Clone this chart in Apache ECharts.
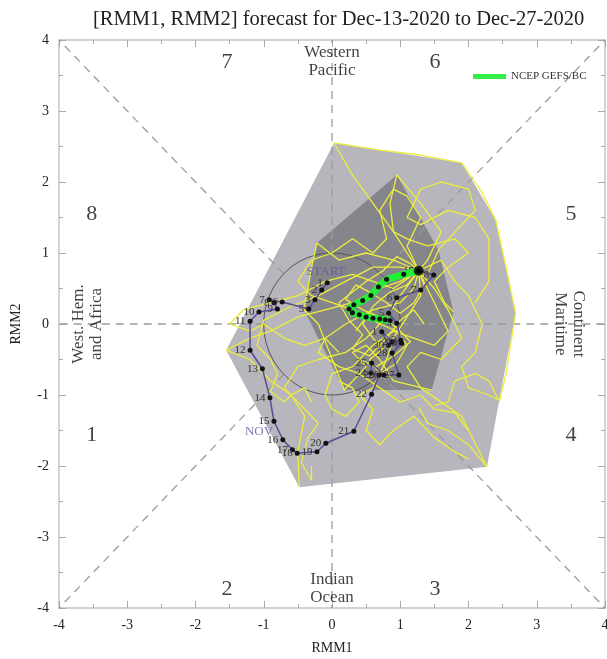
<!DOCTYPE html>
<html>
<head>
<meta charset="utf-8">
<script src="https://cdn.jsdelivr.net/npm/echarts@6/dist/echarts.min.js"></script>
<style>
  html, body { margin: 0; padding: 0; background: #fff; }
  #chart { width: 607px; height: 659px; }
</style>
</head>
<body>
<div id="chart"></div>
<script>
// observed RMM track (day labels, x, y)
const obsDays = ['1','2','3','5','6','7','8','9','10','11','12','13','14','15','16','17','18','19','20','21','22',
  '23','24','25','26','27','28','29','30','1','2','3','4','5','6','7','8','9','10'];
const obsX = [-0.07,-0.15,-0.25,-0.34,-0.73,-0.92,-0.85,-0.80,-1.07,-1.20,-1.20,-1.02,-0.91,-0.85,-0.72,-0.58,-0.51,-0.22,-0.09,0.32,0.58,
  0.69,0.57,0.58,0.76,0.98,0.88,1.02,0.83,0.73,0.88,1.01,0.95,0.83,0.95,1.30,1.49,1.27,1.27];
const obsY = [0.58,0.48,0.34,0.21,0.31,0.34,0.30,0.21,0.17,0.04,-0.37,-0.63,-1.04,-1.37,-1.63,-1.77,-1.82,-1.80,-1.68,-1.51,-0.99,
  -0.72,-0.69,-0.55,-0.72,-0.72,-0.41,-0.27,-0.30,-0.11,-0.25,-0.23,0.01,0.15,0.37,0.48,0.69,0.75,0.75];

// ensemble mean forecast (NCEP GEFS/BC)
const meanX = [1.27,1.05,0.80,0.68,0.57,0.45,0.32,0.25,0.30,0.40,0.50,0.60,0.70,0.78,0.85];
const meanY = [0.75,0.70,0.63,0.52,0.40,0.33,0.27,0.21,0.16,0.13,0.10,0.08,0.07,0.06,0.05];

// ensemble members
const members = [
  [[1.27,0.75],[1.1,1.0],[0.9,1.3],[0.6,1.7],[0.3,2.1],[0.03,2.55],[0.7,2.45],[1.3,2.38],[1.9,2.27],[2.2,1.85],[2.40,1.46],[2.55,0.8],[2.69,0.15],[2.55,-0.7],[2.45,-1.1]],
  [[1.27,0.75],[1.4,0.9],[1.6,1.3],[1.3,1.7],[0.95,2.10],[0.85,1.7],[0.9,1.3],[1.1,1.2],[1.4,1.1],[1.8,1.2],[2.0,1.0],[1.7,0.8],[1.5,0.6],[1.65,0.3],[1.78,0.17]],
  [[1.27,0.75],[1.0,0.6],[0.7,0.5],[0.3,0.3],[-0.1,0.2],[-0.5,0.1],[-0.9,-0.1],[-1.2,-0.2],[-1.55,-0.37],[-1.2,-0.5],[-0.9,-0.8],[-0.6,-1.0],[-0.4,-1.3],[-0.5,-1.8],[-0.48,-2.30]],
  [[1.27,0.75],[1.0,0.4],[0.8,0.1],[0.5,-0.2],[0.2,-0.4],[-0.2,-0.5],[-0.5,-0.6],[-0.7,-0.9],[-0.5,-1.1],[-0.3,-1.3],[-0.2,-1.4],[-0.35,-1.6],[-0.45,-1.95],[-0.3,-2.2],[-0.3,-2.0]],
  [[1.27,0.75],[1.5,0.5],[1.7,0.2],[1.9,-0.2],[1.6,-0.5],[1.3,-0.4],[1.1,-0.6],[1.3,-0.9],[1.6,-1.1],[1.9,-1.3],[2.27,-2.01],[2.0,-1.7],[1.7,-1.5],[1.4,-1.4],[1.27,-1.17]],
  [[1.27,0.75],[0.9,0.9],[0.5,1.0],[0.1,0.9],[-0.22,1.14],[-0.3,0.8],[-0.41,0.20],[-0.2,0.0],[0.18,-0.93],[0.5,-0.6],[0.3,-0.4],[0.5,-0.3],[0.7,-0.5],[0.9,-0.8],[1.46,-0.93]],
  [[1.27,0.75],[1.4,0.7],[1.56,1.04],[1.9,1.4],[2.1,1.6],[2.0,1.9],[1.6,2.0],[1.3,1.9],[1.1,1.5],[1.3,1.4],[1.7,1.6],[2.1,1.5],[2.3,1.2],[2.3,0.6],[2.1,0.3]],
  [[1.27,0.75],[1.2,0.5],[1.0,0.3],[0.6,0.2],[0.2,0.0],[-0.1,-0.2],[-0.2,-0.4],[0.1,-0.6],[0.4,-0.7],[0.7,-0.9],[1.0,-1.1],[1.3,-1.0],[1.5,-1.2],[1.8,-1.25],[2.0,-1.5]],
  [[1.27,0.75],[1.0,0.8],[0.6,0.8],[0.2,0.6],[-0.2,0.4],[-0.6,0.25],[-1.0,0.05],[-1.1,-0.3],[-0.9,-0.5],[-0.8,-0.7],[-0.9,-0.95],[-0.7,-1.1],[-0.6,-1.0],[-0.4,-0.9],[-0.3,-1.1]],
  [[1.27,0.75],[1.3,0.4],[1.1,0.1],[0.9,-0.2],[0.8,-0.5],[0.6,-0.9],[0.4,-1.0],[0.6,-1.2],[0.5,-1.5],[0.7,-1.7],[0.9,-1.5],[1.2,-1.3],[1.5,-1.6],[1.8,-1.8],[2.0,-1.9]],
  [[1.27,0.75],[1.6,0.9],[1.8,0.6],[2.0,0.4],[2.2,0.0],[2.1,-0.4],[1.9,-0.6],[2.0,-0.9],[2.3,-1.0],[2.44,-1.07],[2.3,-0.8],[2.1,-0.7],[1.8,-0.8],[1.7,-1.1],[1.5,-1.15]],
  [[1.27,0.75],[1.1,1.1],[1.3,1.5],[1.1,1.8],[0.9,1.9],[0.7,1.6],[0.8,1.2],[0.6,1.0],[0.3,1.2],[0.0,1.0],[-0.3,0.9],[-0.5,0.6],[-0.3,0.4],[0.0,0.3],[0.3,0.2]],
  [[1.27,0.75],[0.9,0.5],[0.6,0.6],[0.3,0.7],[-0.1,0.6],[-0.5,0.4],[-0.9,0.3],[-1.3,0.2],[-1.5,0.0],[-1.2,-0.1],[-1.0,0.0],[-0.7,-0.2],[-0.4,-0.3],[-0.1,-0.2],[0.1,-0.4]],
  [[1.27,0.75],[1.5,0.3],[1.7,-0.1],[1.5,-0.3],[1.2,-0.2],[0.9,-0.1],[0.6,-0.3],[0.3,-0.6],[0.0,-0.7],[-0.1,-1.0],[0.0,-1.2],[0.2,-1.3],[0.4,-1.1],[0.3,-0.9],[0.1,-0.8]],
  [[1.27,0.75],[1.1,0.55],[0.85,0.45],[0.6,0.25],[0.45,0.0],[0.6,-0.2],[0.75,-0.35],[0.55,-0.5],[0.7,-0.7],[0.95,-0.55],[1.1,-0.3],[0.95,-0.1],[0.7,0.0],[0.5,0.1],[0.35,-0.1]],
  [[1.27,0.75],[1.15,0.85],[0.95,0.95],[0.75,0.75],[0.5,0.6],[0.3,0.45],[0.1,0.3],[0.25,0.05],[0.45,-0.15],[0.3,-0.35],[0.55,-0.45],[0.8,-0.2],[1.0,0.05],[1.2,0.2],[1.35,0.0]],
  [[1.27,0.75],[1.35,0.55],[1.2,0.3],[1.0,0.15],[0.8,0.3],[0.55,0.45],[0.35,0.55],[0.2,0.35],[0.45,0.2],[0.7,0.1],[0.95,-0.05],[1.15,-0.25],[0.9,-0.45],[0.65,-0.6],[0.4,-0.5]]
];

// spread polygons (outer 90%, inner 50%)
const outerHull = [[0.03,2.55],[1.90,2.27],[2.40,1.46],[2.69,0.15],[2.27,-2.01],[-0.48,-2.30],[-1.55,-0.37]];
const innerHull = [[0.95,2.10],[1.56,1.04],[1.78,0.17],[1.46,-0.93],[0.18,-0.93],[-0.41,0.20],[-0.22,1.14]];

// text on the diagram
const phaseNames = ['1','2','3','4','5','6','7','8'];
const phaseX = [-3.52,-1.54,1.51,3.50,3.50,1.51,-1.54,-3.52];
const phaseY = [-1.56,-3.73,-3.73,-1.56,1.54,3.69,3.69,1.54];
const regionNames = ['Western\nPacific','Indian\nOcean','West. Hem.\nand Africa','Continent\nMaritime'];
const regionX = [0, 0, -3.58, 3.48];
const regionY = [3.69, -3.72, 0, 0];
const regionRotate = [0, 0, 90, -90];
const markNames = ['START','NOV'];
const markX = [-0.09, -1.07];
const markY = [0.74, -1.52];

const serif = 'Liberation Serif';

function shapeSeries(pts, color) {
  return {
    type: 'custom', silent: true, data: [[0, 0]], z: 1,
    renderItem: function (params, api) {
      return {
        type: 'polygon',
        shape: { points: pts.map(function (p) { return api.coord(p); }) },
        style: { fill: color }
      };
    }
  };
}

const chart = echarts.init(document.getElementById('chart'));

const series = [
  shapeSeries(outerHull, '#b6b6bc'),
  shapeSeries(innerHull, '#85858c'),
  {
    // phase boundaries and unit circle
    type: 'custom', silent: true, data: [[0, 0]], z: 2,
    renderItem: function (params, api) {
      const kids = [];
      const s = Math.SQRT1_2;
      const segs = [[[s, s], [4, 4]], [[-s, s], [-4, 4]], [[s, -s], [4, -4]], [[-s, -s], [-4, -4]],
        [[0, 1], [0, 4]], [[0, -1], [0, -4]], [[1, 0], [4, 0]], [[-1, 0], [-4, 0]]];
      segs.forEach(function (sg) {
        const a = api.coord(sg[0]), b = api.coord(sg[1]);
        kids.push({ type: 'line', shape: { x1: a[0], y1: a[1], x2: b[0], y2: b[1] },
          style: { stroke: '#9c9c9c', lineWidth: 1.3, lineDash: [8, 6] } });
      });
      const circ = [];
      for (let a = 0; a <= 360; a += 4) {
        const r = a * Math.PI / 180;
        circ.push(api.coord([Math.cos(r), Math.sin(r)]));
      }
      kids.push({ type: 'polyline', shape: { points: circ }, style: { stroke: '#555', lineWidth: 1, fill: null } });
      return { type: 'group', children: kids };
    }
  }
];

members.forEach(function (m) {
  series.push({
    type: 'line', data: m, symbol: 'none', silent: true, z: 3,
    lineStyle: { color: '#eded3c', width: 1.3 }
  });
});

series.push({
  name: 'observed', type: 'line', z: 4, silent: true,
  data: obsX.map(function (x, i) { return [x, obsY[i]]; }),
  symbol: 'circle', symbolSize: 5,
  itemStyle: { color: '#111' },
  lineStyle: { color: '#5a4b94', width: 1.5 },
  label: {
    show: true, position: 'left', distance: 2,
    fontFamily: serif, fontSize: 11, color: '#333',
    formatter: function (p) { return obsDays[p.dataIndex]; }
  }
});

series.push({
  name: 'NCEP GEFS/BC', type: 'line', z: 5, silent: true,
  data: meanX.map(function (x, i) { return [x, meanY[i]]; }),
  symbol: 'circle', symbolSize: 5,
  itemStyle: { color: '#111' },
  lineStyle: { color: '#22ee33', width: 7 }
});

series.push({
  type: 'scatter', z: 6, silent: true,
  data: [[meanX[0], meanY[0]]], symbolSize: 10, itemStyle: { color: '#000' }
});

series.push({
  type: 'scatter', z: 7, silent: true, symbolSize: 0,
  data: phaseX.map(function (x, i) { return { value: [x, phaseY[i]], name: phaseNames[i] }; }),
  label: { show: true, position: 'inside', formatter: '{b}', fontFamily: serif, fontSize: 22, color: '#111' }
});

series.push({
  type: 'scatter', z: 7, silent: true, symbolSize: 0,
  data: regionX.map(function (x, i) {
    return { value: [x, regionY[i]], name: regionNames[i], label: { rotate: regionRotate[i] } };
  }),
  label: { show: true, position: 'inside', formatter: '{b}', fontFamily: serif, fontSize: 17, lineHeight: 18, color: '#111' }
});

series.push({
  type: 'scatter', z: 7, silent: true, symbolSize: 0,
  data: markX.map(function (x, i) { return { value: [x, markY[i]], name: markNames[i] }; }),
  label: { show: true, position: 'inside', formatter: '{b}', fontFamily: serif, fontSize: 13, color: '#6a4fa6' }
});

const tickStyle = { show: true, inside: true, length: 7, lineStyle: { color: '#aaa' } };
const minorStyle = { show: true, splitNumber: 2, length: 4, lineStyle: { color: '#aaa' } };
const lineStyle = { show: true, onZero: false, lineStyle: { color: '#c4c4c4', width: 1.5 } };
const labelStyle = { fontFamily: serif, fontSize: 14, color: '#222' };

const option = {
  backgroundColor: '#fff',
  animation: false,
  title: {
    text: '[RMM1, RMM2] forecast for Dec-13-2020 to Dec-27-2020',
    left: 88, top: 4,
    textStyle: { fontFamily: serif, fontSize: 20.5, fontWeight: 'normal', color: '#222' }
  },
  legend: {
    data: [{ name: 'NCEP GEFS/BC', itemStyle: { color: '#33ee44' } }],
    left: 468, top: 66,
    icon: 'rect', itemWidth: 33, itemHeight: 5, itemGap: 6,
    textStyle: { fontFamily: serif, fontSize: 11, color: '#333' }
  },
  grid: { left: 59, right: 2, top: 40, bottom: 51, outerBoundsMode: 'none' },
  xAxis: [
    {
      type: 'value', min: -4, max: 4, interval: 1,
      name: 'RMM1', nameLocation: 'middle', nameGap: 33,
      nameTextStyle: { fontFamily: serif, fontSize: 14, color: '#222' },
      axisLine: lineStyle, axisTick: tickStyle, minorTick: minorStyle,
      axisLabel: Object.assign({ margin: 10 }, labelStyle),
      splitLine: { show: false }
    },
    {
      type: 'value', min: -4, max: 4, interval: 1, position: 'top',
      axisLine: lineStyle, axisTick: tickStyle, minorTick: minorStyle,
      axisLabel: { show: false }, splitLine: { show: false }
    }
  ],
  yAxis: [
    {
      type: 'value', min: -4, max: 4, interval: 1,
      name: 'RMM2', nameLocation: 'middle', nameGap: 36,
      nameTextStyle: { fontFamily: serif, fontSize: 14, color: '#222' },
      axisLine: lineStyle, axisTick: tickStyle, minorTick: minorStyle,
      axisLabel: Object.assign({ margin: 10 }, labelStyle),
      splitLine: { show: false }
    },
    {
      type: 'value', min: -4, max: 4, interval: 1, position: 'right',
      axisLine: lineStyle, axisTick: tickStyle, minorTick: minorStyle,
      axisLabel: { show: false }, splitLine: { show: false }
    }
  ],
  series: series
};

chart.setOption(option);
</script>
</body>
</html>
